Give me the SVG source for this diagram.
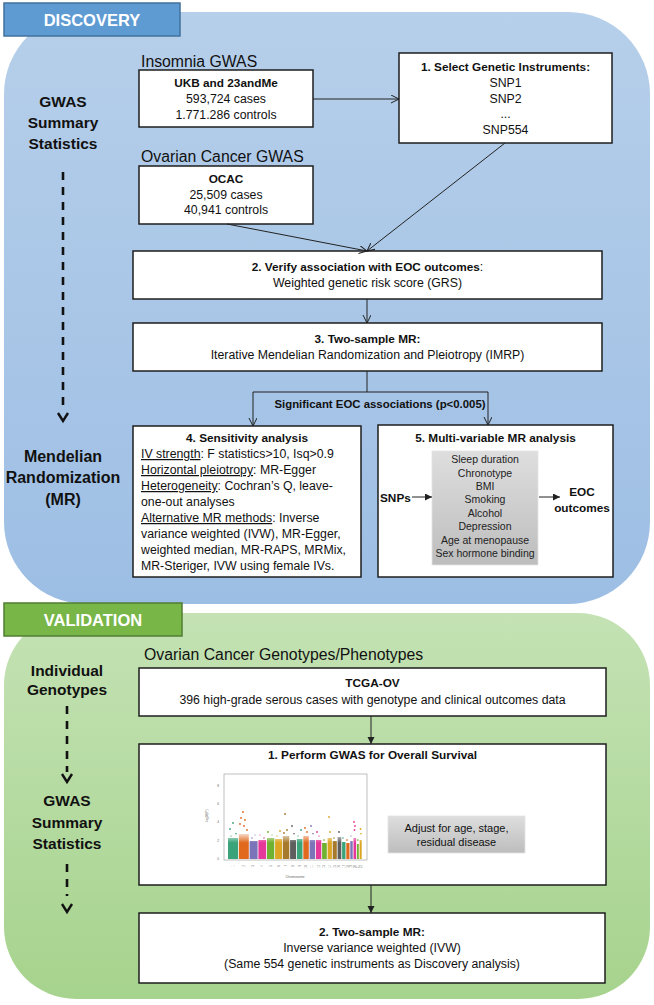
<svg xmlns="http://www.w3.org/2000/svg" width="654" height="1005" viewBox="0 0 654 1005">
<defs>
<linearGradient id="gBlue" x1="0" y1="0" x2="0" y2="1"><stop offset="0" stop-color="#b6cfea"/><stop offset="1" stop-color="#9dbee4"/></linearGradient>
<linearGradient id="gGreen" x1="0" y1="0" x2="0" y2="1"><stop offset="0" stop-color="#c4e2b4"/><stop offset="1" stop-color="#a6d38d"/></linearGradient>
<linearGradient id="gGray" x1="0" y1="0" x2="0" y2="1"><stop offset="0" stop-color="#dedede"/><stop offset="1" stop-color="#bdbdbd"/></linearGradient>
<linearGradient id="gFade" x1="0" y1="0" x2="0" y2="1"><stop offset="0" stop-color="#fff" stop-opacity="0.75"/><stop offset="0.35" stop-color="#fff" stop-opacity="0"/></linearGradient>
<marker id="openArrow" markerUnits="userSpaceOnUse" markerWidth="10" markerHeight="10" refX="8" refY="4" orient="auto"><path d="M0,0 L8,4 L0,8" fill="none" stroke="#222" stroke-width="1"/></marker>
<marker id="fillArrow" markerUnits="userSpaceOnUse" markerWidth="9" markerHeight="8" refX="7" refY="3.5" orient="auto"><path d="M0,0 L7,3.5 L0,7 z" fill="#222"/></marker>
</defs>
<style>
.box{fill:#fff;stroke:#1e1e1e;stroke-width:1.5}
.t{font-family:"Liberation Sans",Arial,sans-serif;font-size:12.3px;fill:#111}
.b{font-weight:bold;font-size:11.8px}
.c{text-anchor:middle}
.lab{font-size:15.8px}
.side{font-family:"Liberation Sans",Arial,sans-serif;font-size:15.5px;font-weight:bold;text-anchor:middle;fill:#111}
.hdr{font-family:"Liberation Sans",Arial,sans-serif;font-size:16.5px;font-weight:bold;fill:#fff;text-anchor:middle}
.conn{stroke:#222;stroke-width:1;fill:none}
.dash{stroke:#111;stroke-width:2.6;fill:none;stroke-dasharray:8 7}
.chev{stroke:#111;stroke-width:2.4;fill:none}
.tiny{font-family:"Liberation Sans",Arial,sans-serif;font-size:3.2px;fill:#666}
</style>

<!-- Panels -->
<g id="discovery-panel">
<rect x="4" y="12" width="646" height="592" rx="82" ry="82" fill="url(#gBlue)"/>
<rect x="4" y="3" width="176" height="33" fill="#5f9bd3" stroke="#41719c" stroke-width="1.5"/>
<text class="hdr" x="92" y="26">DISCOVERY</text>
</g>
<g id="validation-panel">
<rect x="4" y="613" width="646" height="386" rx="72" ry="72" fill="url(#gGreen)"/>
<rect x="4" y="603" width="178" height="33" fill="#77b647" stroke="#507e32" stroke-width="1.5"/>
<text class="hdr" x="93" y="626">VALIDATION</text>
</g>

<!-- Side labels -->
<g id="side-gwas-summary">
<text class="side" x="63" y="107">GWAS</text>
<text class="side" x="63" y="128">Summary</text>
<text class="side" x="63" y="149">Statistics</text>
</g>
<g id="side-mr">
<text class="side" x="63" y="462" style="font-size:16px">Mendelian</text>
<text class="side" x="63" y="483" style="font-size:16px">Randomization</text>
<text class="side" x="63" y="505" style="font-size:16px">(MR)</text>
</g>
<g id="side-individual">
<text class="side" x="67" y="676">Individual</text>
<text class="side" x="67" y="695">Genotypes</text>
</g>
<g id="side-gwas-summary-2">
<text class="side" x="67" y="806">GWAS</text>
<text class="side" x="67" y="828">Summary</text>
<text class="side" x="67" y="849">Statistics</text>
</g>

<!-- Discovery nodes -->
<g id="insomnia-gwas">
<text class="t lab" x="141" y="67">Insomnia GWAS</text>
<rect class="box" x="139" y="70" width="174" height="57"/>
<text class="t b c" x="226" y="87">UKB and 23andMe</text>
<text class="t c" x="226" y="103">593,724 cases</text>
<text class="t c" x="226" y="119">1.771.286 controls</text>
</g>
<g id="ovarian-gwas">
<text class="t lab" x="141" y="162">Ovarian Cancer GWAS</text>
<rect class="box" x="139" y="166" width="174" height="58"/>
<text class="t b c" x="226" y="183">OCAC</text>
<text class="t c" x="226" y="199">25,509 cases</text>
<text class="t c" x="226" y="214">40,941 controls</text>
</g>
<g id="select-instruments">
<rect class="box" x="399" y="53" width="213" height="90"/>
<text class="t b c" x="505.5" y="71">1. Select Genetic Instruments:</text>
<text class="t c" x="505.5" y="87">SNP1</text>
<text class="t c" x="505.5" y="103">SNP2</text>
<text class="t c" x="505.5" y="118">...</text>
<text class="t c" x="505.5" y="134">SNP554</text>
</g>
<g id="verify-association">
<rect class="box" x="133" y="251" width="469" height="48"/>
<text class="t c" x="367.5" y="271"><tspan class="b">2. Verify association with EOC outcomes</tspan>:</text>
<text class="t c" x="367.5" y="287">Weighted genetic risk score (GRS)</text>
</g>
<g id="two-sample-mr">
<rect class="box" x="133" y="323" width="469" height="48"/>
<text class="t b c" x="367.5" y="343">3. Two-sample MR:</text>
<text class="t c" x="367.5" y="359">Iterative Mendelian Randomization and Pleiotropy (IMRP)</text>
</g>
<g id="sensitivity-analysis">
<rect class="box" x="133" y="426" width="228" height="151"/>
<text class="t b c" x="247" y="442">4. Sensitivity analysis</text>
<text class="t" x="141" y="458"><tspan text-decoration="underline">IV strength</tspan>: F statistics&gt;10, Isq&gt;0.9</text>
<text class="t" x="141" y="474"><tspan text-decoration="underline">Horizontal pleiotropy</tspan>: MR-Egger</text>
<text class="t" x="141" y="490"><tspan text-decoration="underline">Heterogeneity</tspan>: Cochran’s Q, leave-</text>
<text class="t" x="141" y="506">one-out analyses</text>
<text class="t" x="141" y="522"><tspan text-decoration="underline">Alternative MR methods</tspan>: Inverse</text>
<text class="t" x="141" y="538">variance weighted (IVW), MR-Egger,</text>
<text class="t" x="141" y="554">weighted median, MR-RAPS, MRMix,</text>
<text class="t" x="141" y="570">MR-Steriger, IVW using female IVs.</text>
</g>
<g id="multivariable-mr">
<rect class="box" x="378" y="425" width="235" height="152"/>
<text class="t b c" x="495.5" y="442">5. Multi-variable MR analysis</text>
<rect x="432" y="451" width="106" height="114" fill="url(#gGray)" stroke="#e4e4e4" stroke-width="0.8"/>
<g class="t c" style="font-size:10.5px;fill:#222">
<text x="485" y="463">Sleep duration</text>
<text x="485" y="476.5">Chronotype</text>
<text x="485" y="490">BMI</text>
<text x="485" y="503">Smoking</text>
<text x="485" y="516.5">Alcohol</text>
<text x="485" y="530">Depression</text>
<text x="485" y="543.5">Age at menopause</text>
<text x="485" y="557">Sex hormone binding</text>
</g>
<text class="t b" x="380" y="502">SNPs</text>
<text class="t b c" x="582" y="496">EOC</text>
<text class="t b c" x="582" y="512">outcomes</text>
</g>

<!-- Validation nodes -->
<g id="tcga-ov">
<text class="t lab" x="144" y="660">Ovarian Cancer Genotypes/Phenotypes</text>
<rect class="box" x="139" y="668" width="467" height="48"/>
<text class="t b c" x="372.5" y="687">TCGA-OV</text>
<text class="t c" x="372.5" y="704">396 high-grade serous cases with genotype and clinical outcomes data</text>
</g>
<g id="perform-gwas">
<rect class="box" x="139" y="744" width="467" height="141"/>
<text class="t b c" x="372.5" y="759">1. Perform GWAS for Overall Survival</text>
<g id="manhattan-plot">
<rect x="224" y="774" width="143" height="86" fill="#fff" stroke="#b0b0b0" stroke-width="0.8"/>
<g class="tiny" text-anchor="end">
<text x="219" y="787">8</text><text x="219" y="805">6</text><text x="219" y="823">4</text><text x="219" y="842">2</text><text x="219" y="860">0</text>
</g>
<text class="tiny" x="208" y="816" text-anchor="middle" transform="rotate(-90 208 816)">-log10(P)</text>
<text class="tiny" x="295" y="878" text-anchor="middle">Chromosome</text>
<g class="tiny" style="font-size:2.6px" text-anchor="end">
<text transform="translate(234 865) rotate(-90)">1</text>
<text transform="translate(244.5 865) rotate(-90)">2</text>
<text transform="translate(254 865) rotate(-90)">3</text>
<text transform="translate(263 865) rotate(-90)">4</text>
<text transform="translate(271.5 865) rotate(-90)">5</text>
<text transform="translate(279.5 865) rotate(-90)">6</text>
<text transform="translate(287 865) rotate(-90)">7</text>
<text transform="translate(294 865) rotate(-90)">8</text>
<text transform="translate(300.5 865) rotate(-90)">9</text>
<text transform="translate(307 865) rotate(-90)">10</text>
<text transform="translate(313.3 865) rotate(-90)">11</text>
<text transform="translate(319.5 865) rotate(-90)">12</text>
<text transform="translate(325.3 865) rotate(-90)">13</text>
<text transform="translate(330.7 865) rotate(-90)">14</text>
<text transform="translate(335.7 865) rotate(-90)">15</text>
<text transform="translate(340.3 865) rotate(-90)">16</text>
<text transform="translate(344.7 865) rotate(-90)">17</text>
<text transform="translate(348.8 865) rotate(-90)">18</text>
<text transform="translate(352.4 865) rotate(-90)">19</text>
<text transform="translate(355.7 865) rotate(-90)">20</text>
<text transform="translate(358.8 865) rotate(-90)">21</text>
<text transform="translate(361.6 865) rotate(-90)">22</text>
</g>
<g id="chr-bars">
<g fill="#3aa37a"><rect x="228" y="838" width="10.1" height="21"/><circle cx="230" cy="829" r="0.9"/><circle cx="233" cy="823" r="0.9"/><circle cx="236" cy="834" r="0.9"/><circle cx="231" cy="836" r="0.9"/>
<rect x="296.8" y="839" width="5.7" height="20"/><circle cx="298" cy="836" r="0.9"/><circle cx="301" cy="830" r="0.9"/>
<rect x="342.1" y="842" width="3.4" height="17"/><circle cx="343" cy="838" r="0.9"/></g>
<g fill="#e0691e"><rect x="238.9" y="834" width="9.9" height="25"/><circle cx="241" cy="818" r="0.9"/><circle cx="243" cy="812" r="0.9"/><circle cx="245" cy="820" r="0.9"/><circle cx="240" cy="824" r="0.9"/><circle cx="247" cy="830" r="0.9"/><circle cx="244" cy="826" r="0.9"/>
<rect x="303.3" y="836" width="5.5" height="23"/><circle cx="305" cy="828" r="0.9"/><circle cx="307" cy="832" r="0.9"/>
<rect x="346.3" y="843" width="3.2" height="16"/><circle cx="347" cy="840" r="0.9"/></g>
<g fill="#7b74b8"><rect x="249.6" y="841" width="8" height="18"/><circle cx="252" cy="838" r="0.9"/><circle cx="255" cy="835" r="0.9"/>
<rect x="309.6" y="840" width="5.5" height="19"/><circle cx="311" cy="826" r="0.9"/><circle cx="313" cy="834" r="0.9"/>
<rect x="350.3" y="841" width="2.4" height="18"/><circle cx="351" cy="836" r="0.9"/></g>
<g fill="#e6389a"><rect x="258.4" y="840" width="7.8" height="19"/><circle cx="260" cy="835" r="0.9"/><circle cx="264" cy="838" r="0.9"/>
<rect x="315.9" y="840" width="5.4" height="19"/><circle cx="317" cy="832" r="0.9"/><circle cx="319" cy="836" r="0.9"/>
<rect x="353.5" y="838" width="2.6" height="21"/><circle cx="354" cy="822" r="0.9"/><circle cx="355" cy="826" r="0.9"/><circle cx="354.5" cy="830" r="0.9"/></g>
<g fill="#6fb130"><rect x="267" y="838" width="7.3" height="21"/><circle cx="268" cy="832" r="0.9"/><circle cx="272" cy="835" r="0.9"/>
<rect x="322.1" y="843" width="4.7" height="16"/><circle cx="324" cy="840" r="0.9"/>
<rect x="356.9" y="844" width="1.9" height="15"/><circle cx="357.8" cy="840" r="0.9"/></g>
<g fill="#dca623"><rect x="275.1" y="839" width="6.9" height="20"/><circle cx="277" cy="836" r="0.9"/><circle cx="280" cy="831" r="0.9"/>
<rect x="327.6" y="838" width="4.3" height="21"/><circle cx="329" cy="817" r="0.9"/><circle cx="330" cy="832" r="0.9"/>
<rect x="359.6" y="840" width="2.1" height="19"/><circle cx="360.5" cy="829" r="0.9"/><circle cx="361" cy="834" r="0.9"/></g>
<g fill="#a7792a"><rect x="282.8" y="836" width="6.5" height="23"/><circle cx="285" cy="814" r="0.9"/><circle cx="287" cy="830" r="0.9"/><circle cx="284" cy="833" r="0.9"/>
<rect x="332.7" y="841" width="4.1" height="18"/><circle cx="334" cy="838" r="0.9"/></g>
<g fill="#5e5e5e"><rect x="290.1" y="840" width="5.9" height="19"/><circle cx="292" cy="826" r="0.9"/><circle cx="294" cy="834" r="0.9"/>
<rect x="337.6" y="837" width="3.7" height="22"/><circle cx="339" cy="832" r="0.9"/></g>
<rect x="228" y="834" width="134" height="25" fill="url(#gFade)"/>
</g>
</g>
<rect x="388" y="816" width="137" height="37" fill="url(#gGray)" stroke="#e4e4e4" stroke-width="0.8"/>
<text class="t c" x="456.5" y="832" style="font-size:11px">Adjust for age, stage,</text>
<text class="t c" x="456.5" y="846" style="font-size:11px">residual disease</text>
</g>
<g id="validation-two-sample-mr">
<rect class="box" x="139" y="913" width="466" height="70"/>
<text class="t b c" x="372" y="936">2. Two-sample MR:</text>
<text class="t c" x="372" y="952">Inverse variance weighted (IVW)</text>
<text class="t c" x="372" y="968">(Same 554 genetic instruments as Discovery analysis)</text>
</g>

<!-- Connectors -->
<g id="connectors">
<path class="conn" d="M313,99 H399" marker-end="url(#openArrow)"/>
<path class="conn" d="M505,143 L367,251" marker-end="url(#openArrow)"/>
<path class="conn" d="M227,224 L367,251" marker-end="url(#openArrow)"/>
<path class="conn" d="M367,299 V323" marker-end="url(#openArrow)"/>
<path class="conn" d="M367,371 V392"/>
<path class="conn" d="M253,392 H488"/>
<path class="conn" d="M253,392 V426" marker-end="url(#openArrow)"/>
<path class="conn" d="M488,392 V425" marker-end="url(#openArrow)"/>
<text class="t b c" x="380" y="408" style="font-size:11.4px">Significant EOC associations (p&lt;0.005)</text>
<path class="conn" d="M412,497 H432" marker-end="url(#fillArrow)"/>
<path class="conn" d="M539,497 H560" marker-end="url(#fillArrow)"/>
<path class="conn" d="M371,716 V744" marker-end="url(#fillArrow)"/>
<path class="conn" d="M371,885 V913" marker-end="url(#fillArrow)"/>
<path class="dash" d="M63,172 V410"/>
<path class="chev" d="M58,413 L63,421 L68,413"/>
<path class="dash" d="M67,706 V772"/>
<path class="chev" d="M62,774 L67,782 L72,774"/>
<path class="dash" d="M67,864 V896"/>
<path class="chev" d="M62,904 L67,912 L72,904"/>
</g>
</svg>
